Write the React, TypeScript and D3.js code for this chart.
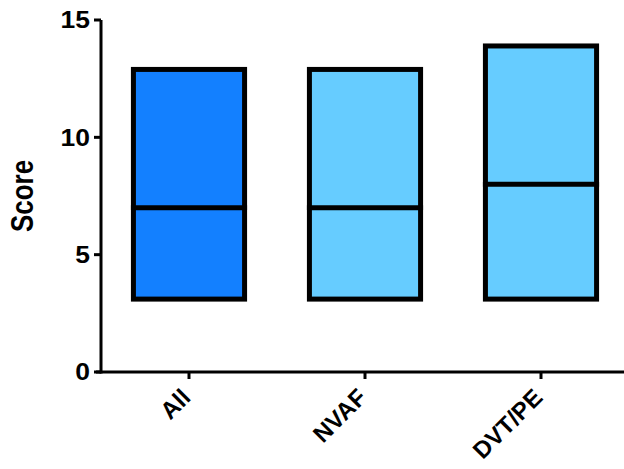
import React from "react";
import * as d3 from "d3";

const categories = ["All", "NVAF", "DVT/PE"];
const minValues = [3, 3, 3];
const maxValues = [13, 13, 14];
const medianValues = [7, 7, 8];
const fillColors = ["#1380FF", "#66CCFF", "#66CCFF"];
const yTicks = [0, 5, 10, 15];

const W = 624;
const H = 469;
const X0 = 101;
const X1 = 629;
const Y0 = 372;
const Y1 = 20;
const FONT = "'Liberation Sans', Arial, Helvetica, sans-serif";

export default function App() {
  const y = d3.scaleLinear().domain([0, 15]).range([Y0, Y1]);
  const x = d3.scaleBand().domain(categories).range([X0, X1]).paddingInner(0.34).paddingOuter(0.17);
  const bw = x.bandwidth();
  const sw = 5;
  return (
    <svg width={W} height={H} style={{ position: "absolute", left: 0, top: 0, background: "#fff" }}>
      {categories.map((c, i) => {
        const left = x(c)!;
        const top = y(maxValues[i]);
        const bottom = y(minValues[i]);
        return (
          <g key={c}>
            <rect
              x={left + sw / 2}
              y={top + sw / 2}
              width={bw - sw}
              height={bottom - top - sw}
              fill={fillColors[i]}
              stroke="#000"
              strokeWidth={sw}
            />
            <line x1={left} x2={left + bw} y1={y(medianValues[i])} y2={y(medianValues[i])} stroke="#000" strokeWidth={sw} />
          </g>
        );
      })}
      {/* y axis */}
      <line x1={X0} x2={X0} y1={Y1} y2={Y0 + 1.5} stroke="#000" strokeWidth={3} />
      {yTicks.map((t) => (
        <g key={t}>
          <line x1={X0 - 7} x2={X0} y1={y(t)} y2={y(t)} stroke="#000" strokeWidth={3} />
          <text
            transform={`translate(${X0 - 11},${y(t)}) scale(1.15,1)`}
            dy="0.36em"
            textAnchor="end"
            fontFamily={FONT}
            fontWeight="bold"
            fontSize={23}
          >
            {t}
          </text>
        </g>
      ))}
      {/* x axis */}
      <line x1={X0 - 5} x2={X1} y1={Y0} y2={Y0} stroke="#000" strokeWidth={3} />
      {categories.map((c) => {
        const cx = x(c)! + bw / 2;
        return (
          <g key={c}>
            <line x1={cx} x2={cx} y1={Y0} y2={Y0 + 7} stroke="#000" strokeWidth={3} />
            <text
              transform={`translate(${cx + 3},${Y0 + 27}) rotate(-45)`}
              textAnchor="end"
              fontFamily={FONT}
              fontWeight="bold"
              fontSize={24}
            >
              {c}
            </text>
          </g>
        );
      })}
      <text
        transform={`translate(33,${(Y0 + Y1) / 2}) scale(1.2,1) rotate(-90)`}
        textAnchor="middle"
        fontFamily={FONT}
        fontWeight="bold"
        fontSize={26}
      >
        Score
      </text>
    </svg>
  );
}
